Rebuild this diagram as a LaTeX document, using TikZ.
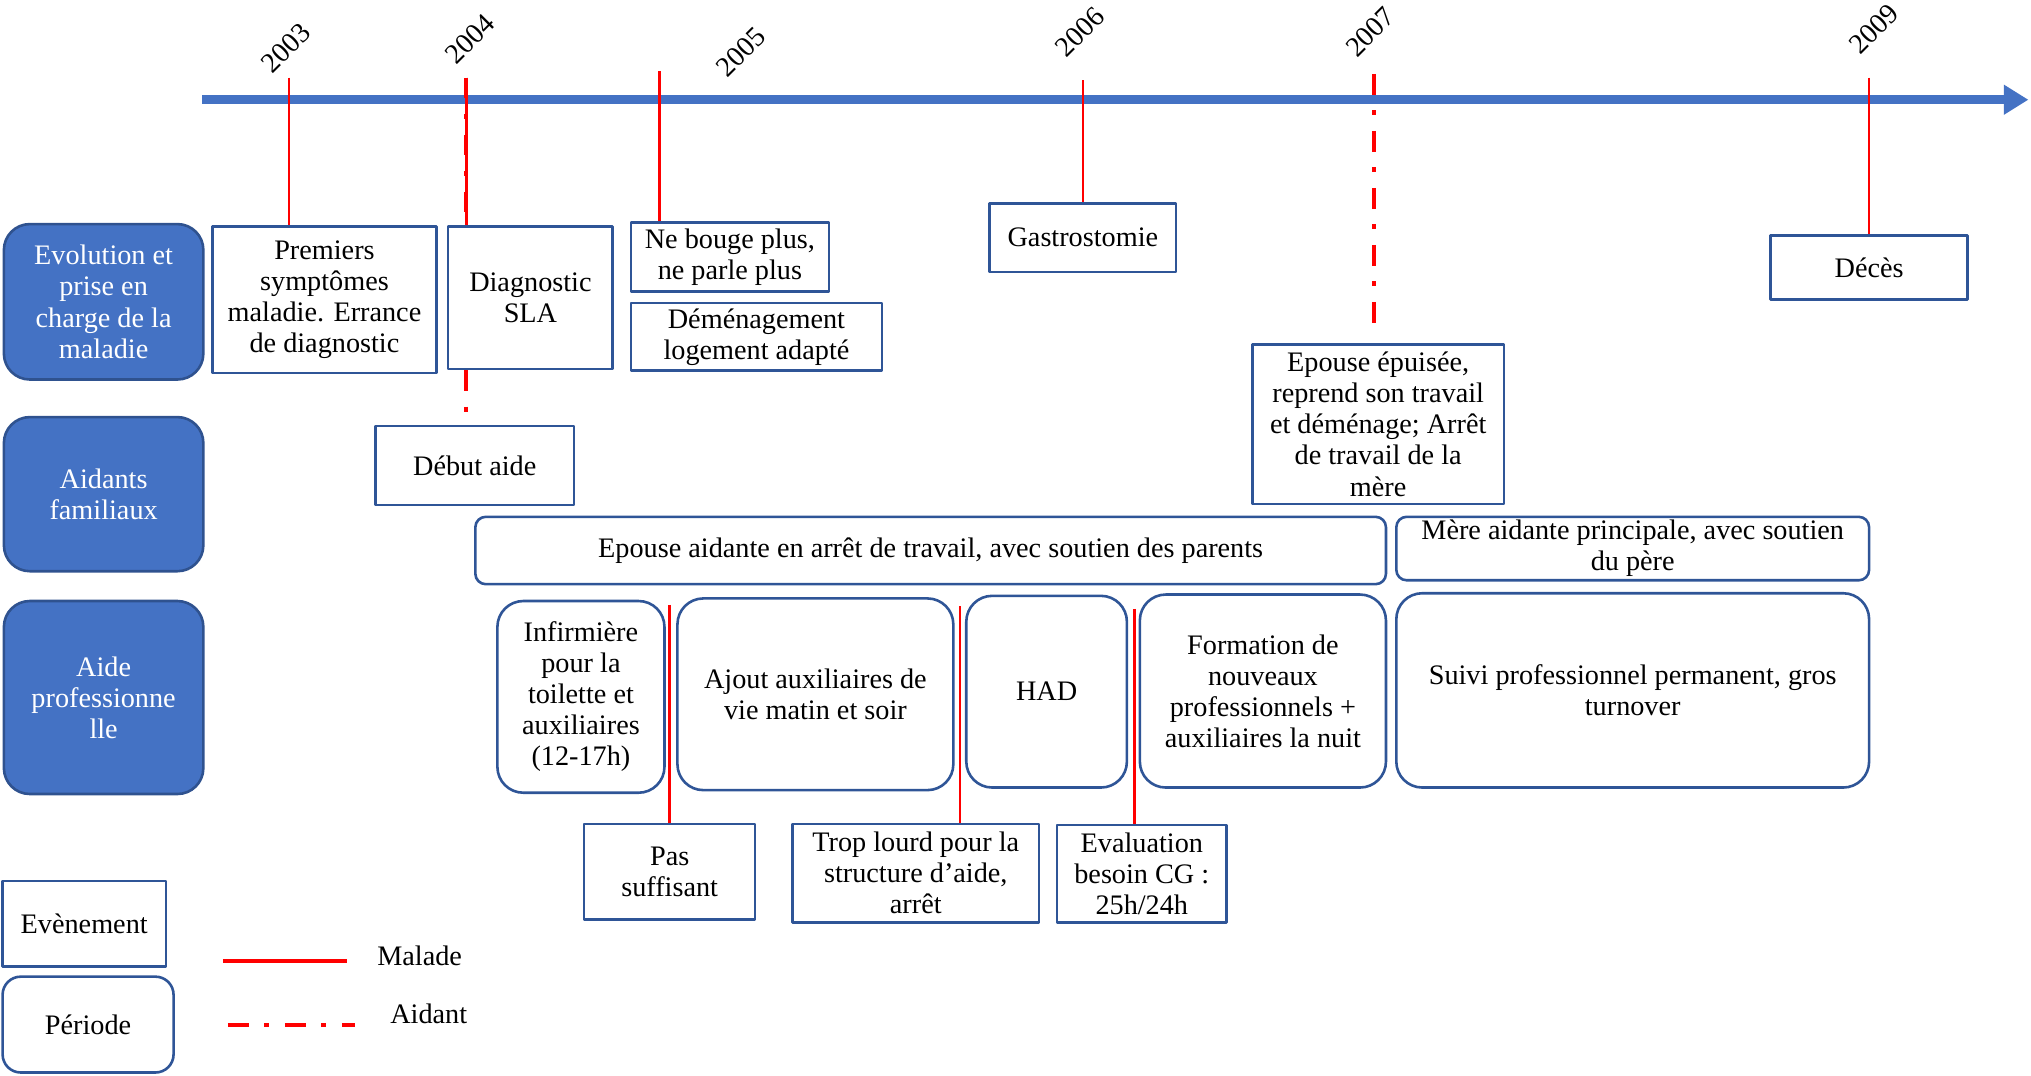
\documentclass[tikz,border=0pt]{standalone}
\usepackage{fontspec}
\setmainfont{Liberation Serif}
\usetikzlibrary{arrows.meta}
\begin{document}
\begin{tikzpicture}[x=0.5pt, y=-0.5pt, font=\fontsize{10.9}{12}\selectfont, line join=round,
		evt/.style={draw=boxcolor, line width=1pt, fill=white, align=center, inner sep=1pt},
		per/.style={evt, rounded corners=10pt},
		cat/.style={draw=catborder, fill=catcolor, text=white, line width=1pt, rounded corners=10pt, align=center, minimum width=77pt},
		malade/.style={red, line width=1pt},
		aidant/.style={red, line width=1.5pt, dash pattern=on 8pt off 6pt on 2pt off 6pt},
		year/.style={rotate=45}]
			\definecolor{catcolor}{HTML}{4472C4}
			\definecolor{catborder}{HTML}{2F528F}
			\definecolor{boxcolor}{HTML}{2F5597}
			\useasboundingbox (0,0) rectangle (1568,830);
			\coordinate (axstart) at (156,77);
			\coordinate (axend) at (1566,77);
			\draw[catcolor, line width=3.5pt, -{Triangle[length=9.5pt, width=11pt]}] (axstart) -- (axend);
			\foreach \yr/\tx/\ty/\lx/\ly in {2003/223/60/221/37, 2004/360/60/363/30, 2005/509/55/572/40, 2006/836/62/834/25, 2007/1061/57/1058/25, 2009/1443/60/1447/22} {
				\coordinate (t\yr) at (\tx,\ty);
				\node[year] (l\yr) at (\lx,\ly) {\yr};
			}
			\node[cat, minimum height=60pt] (evol) at (80,233) {Evolution et\\prise en\\charge de la\\maladie};
			\node[cat, minimum height=59.5pt] (aidants) at (80,381.5) {Aidants\\familiaux};
			\node[cat, minimum height=74.5pt] (aidepro) at (80,538.5) {Aide\\professionne\\lle};
			\node[evt, minimum width=86.5pt, minimum height=56.5pt] (premiers) at (250.5,231.5) {Premiers\\symptômes\\maladie. Errance\\de diagnostic};
			\node[evt, minimum width=63.5pt, minimum height=55pt] (diag) at (409.5,230) {Diagnostic\\SLA};
			\node[evt, minimum width=76.5pt, minimum height=26.5pt] (bouge) at (563.5,198.5) {Ne bouge plus,\\ne parle plus};
			\node[evt, minimum width=97pt, minimum height=26pt] (demenag) at (584,260) {Déménagement\\logement adapté};
			\node[evt, minimum width=72pt, minimum height=26.5pt] (gastro) at (836,183.5) {Gastrostomie};
			\node[evt, minimum width=76pt, minimum height=24.5pt] (deces) at (1443,206.5) {Décès};
			\node[evt, minimum width=97pt, minimum height=61.5pt] (epuisee) at (1064,327.5) {Epouse épuisée,\\reprend son travail\\et déménage; Arrêt\\de travail de la\\mère};
			\node[evt, minimum width=76.5pt, minimum height=30.5pt] (debut) at (366.5,359.5) {Début aide};
			\node[per, rounded corners=4pt, minimum width=351.5pt, minimum height=26pt] (epouse) at (718.5,425) {Epouse aidante en arrêt de travail, avec soutien des parents};
			\node[per, rounded corners=4pt, minimum width=182.5pt, minimum height=24.5pt] (mere) at (1260.5,423.5) {Mère aidante principale, avec soutien\\du père};
			\node[per, minimum width=64.5pt, minimum height=74pt] (infirm) at (448.5,538) {Infirmière\\pour la\\toilette et\\auxiliaires\\(12-17h)};
			\node[per, minimum width=106.5pt, minimum height=74pt] (ajout) at (629.5,536) {Ajout auxiliaires de\\vie matin et soir};
			\node[per, minimum width=62pt, minimum height=74pt] (had) at (808,534) {HAD};
			\node[per, minimum width=95pt, minimum height=74.5pt] (formation) at (975,533.5) {Formation de\\nouveaux\\professionnels +\\auxiliaires la nuit};
			\node[per, minimum width=182.5pt, minimum height=75pt] (suivi) at (1260.5,533) {Suivi professionnel permanent, gros\\turnover};
			\node[evt, minimum width=66pt, minimum height=37pt] (passuff) at (517,673) {Pas\\suffisant};
			\node[evt, minimum width=95pt, minimum height=38pt] (lourd) at (707,674) {Trop lourd pour la\\structure d’aide,\\arrêt};
			\node[evt, minimum width=65.5pt, minimum height=37.5pt] (evalcg) at (881.5,674.5) {Evaluation\\besoin CG :\\25h/24h};
			\node[evt, minimum width=63pt, minimum height=33pt] (legev) at (65,713) {Evènement};
			\node[per, rounded corners=7pt, minimum width=66pt, minimum height=37pt] (legper) at (68,791) {Période};
			\draw[malade] (t2003) -- (t2003 |- premiers.north);
			\draw[aidant] (t2004) -- (t2004 |- diag.north);
			\draw[aidant] (t2004 |- diag.south) -- (t2004 |- debut.north);
			\draw[malade] (t2004) -- (t2004 |- diag.north);
			\draw[malade] (t2005) -- (t2005 |- bouge.north);
			\draw[malade] (t2006) -- (gastro.north);
			\draw[aidant, shorten >=4pt] (t2007) -- (t2007 |- epuisee.north);
			\draw[malade] (t2009) -- (deces.north);
			\coordinate (s1) at (517,467);
			\coordinate (s2) at (741,468);
			\coordinate (s3) at (876,470);
			\draw[malade] (s1) -- (passuff.north);
			\draw[malade] (s2) -- (s2 |- lourd.north);
			\draw[malade] (s3) -- (s3 |- evalcg.north);
			\coordinate (m1) at (172,742);
			\coordinate (m2) at (268,742);
			\coordinate (a1) at (176,791);
			\coordinate (a2) at (274,791);
			\draw[malade, line width=1.5pt] (m1) -- (m2);
			\draw[aidant] (a1) -- (a2);
			\node (malade) at (324,738) {Malade};
			\node (aidant) at (331,783) {Aidant};
	\end{tikzpicture}
\end{document}
